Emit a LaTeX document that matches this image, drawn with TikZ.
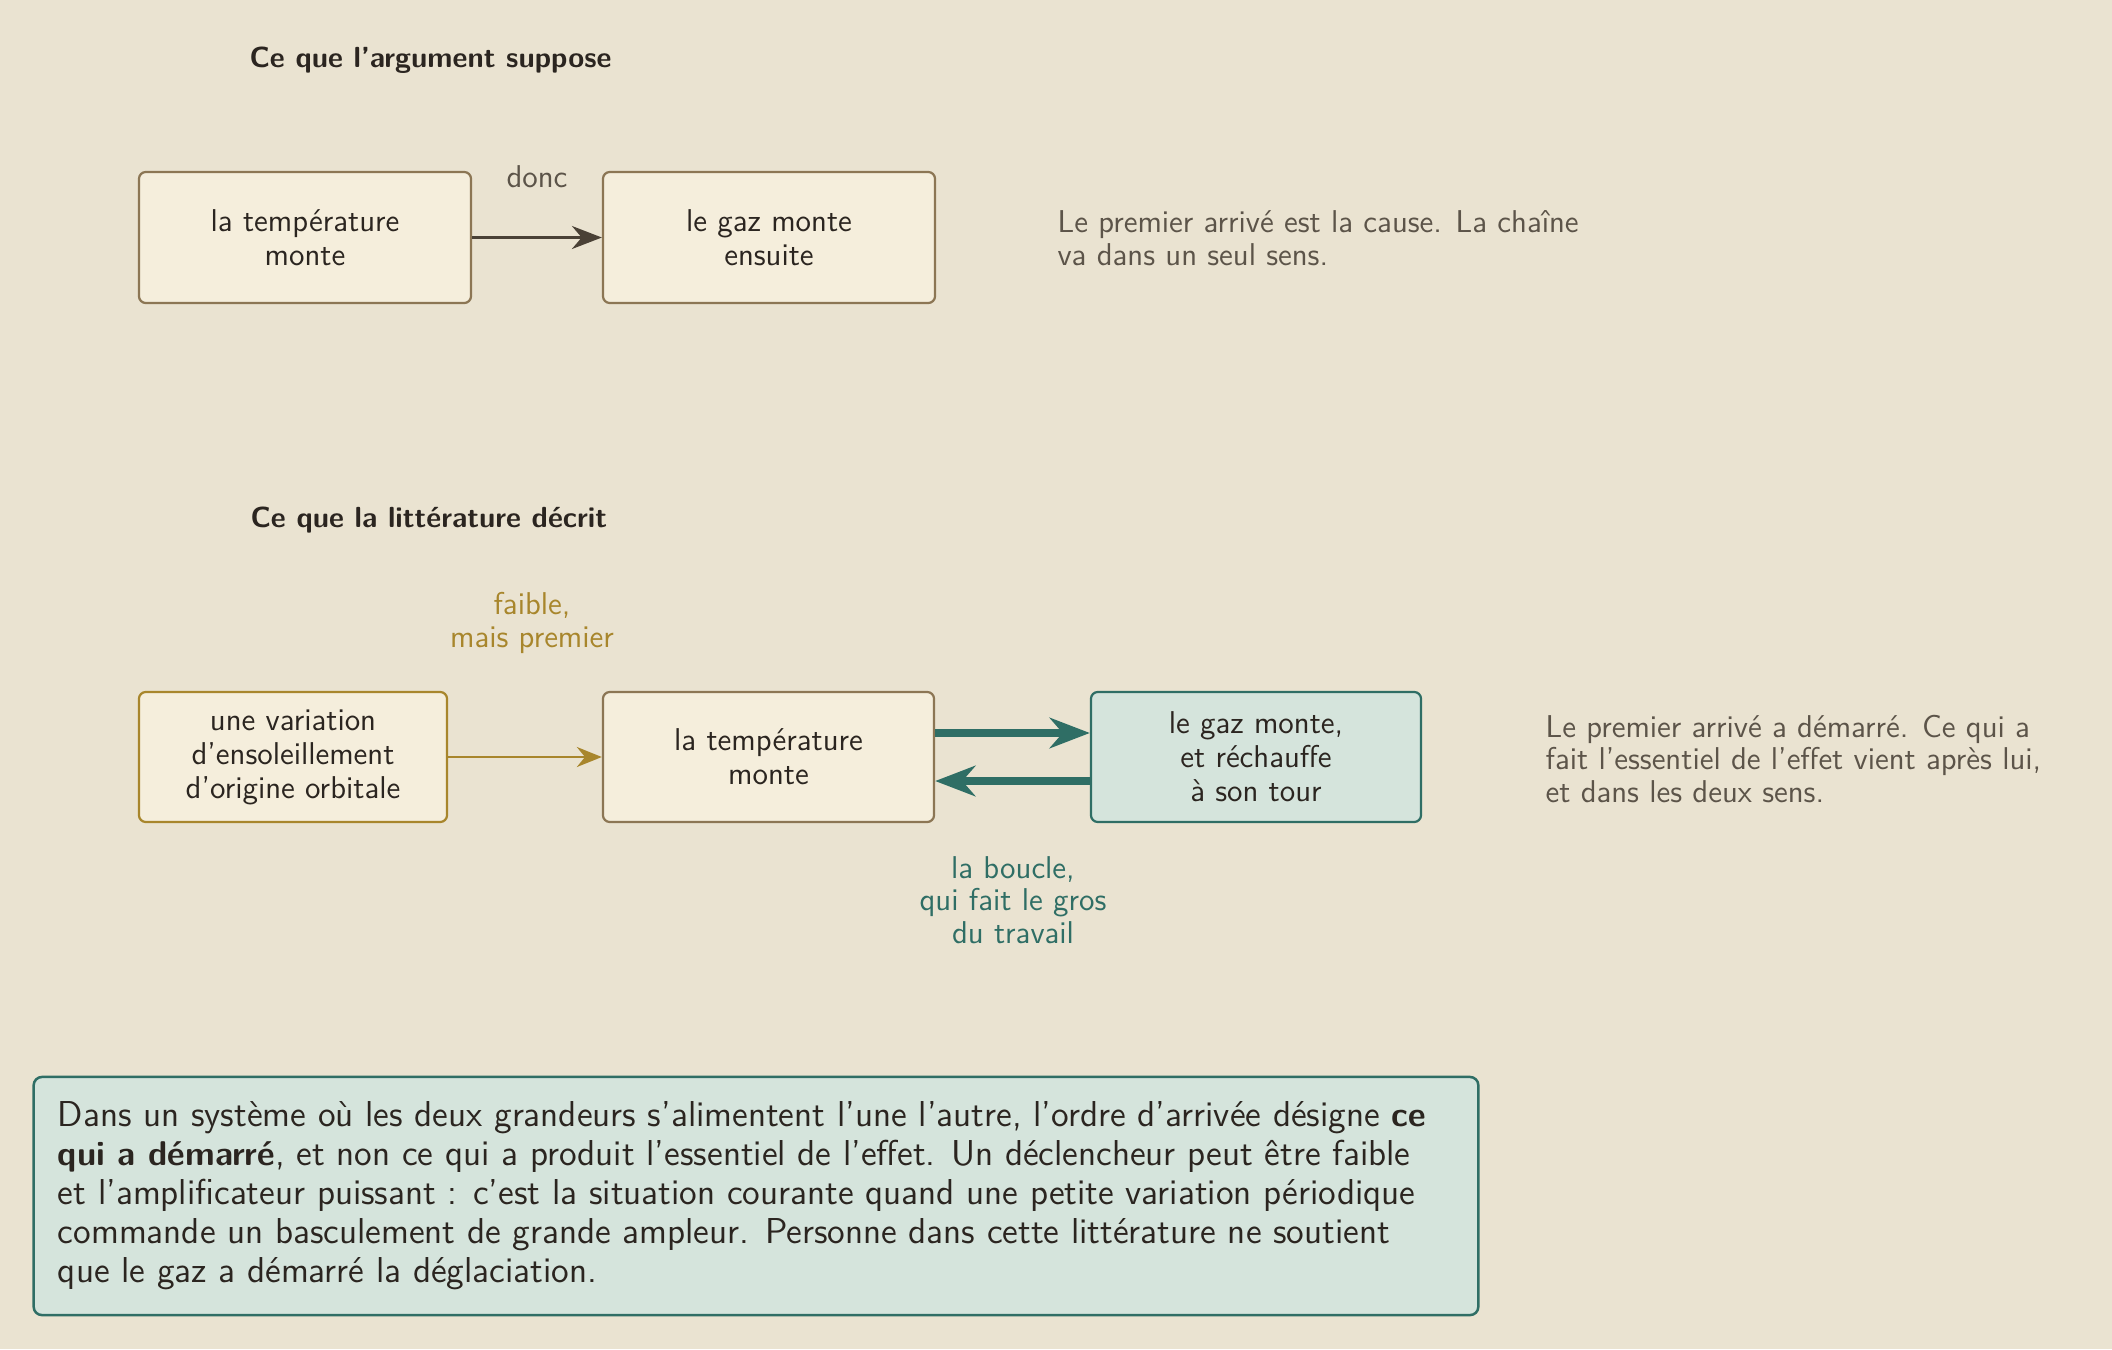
\documentclass[tikz,border=0pt]{standalone}
\usepackage{fontspec}
\usetikzlibrary{arrows.meta}
\definecolor{bg}{HTML}{EAE3D1}
\definecolor{cream}{HTML}{F5EEDC}
\definecolor{brownline}{HTML}{8C7654}
\definecolor{gold}{HTML}{A8862C}
\definecolor{teal}{HTML}{2F6E65}
\definecolor{tealfill}{HTML}{D5E4DC}
\definecolor{darkarrow}{HTML}{4A4136}
\definecolor{darktext}{HTML}{2B2520}
\definecolor{graytext}{HTML}{5C5449}
\newcommand{\bbold}[1]{{\fontsize{12.4}{14.1}\bfseries #1}}
\tikzset{
  boxtext/.style={font=\sffamily\fontsize{11.4}{12.3}\selectfont},
  stepbox/.style={boxtext, draw=brownline, fill=cream, line width=0.8pt, rounded corners=2.5pt,
    align=center, text=darktext, inner sep=0pt},
  goldbox/.style={stepbox, draw=gold},
  tealbox/.style={stepbox, draw=teal, fill=tealfill},
  titletext/.style={font=\sffamily\bfseries\fontsize{10.5}{12.5}\selectfont, text=darktext, inner sep=0pt},
  sidetext/.style={font=\sffamily\fontsize{11.4}{12.1}\selectfont, text=graytext, align=left, inner sep=0pt},
  lbl/.style={font=\sffamily\fontsize{11.4}{11.7}\selectfont, align=center, inner sep=0pt},
  darkarr/.style={draw=darkarrow, line width=1.1pt, -{Stealth[length=10.8pt,width=8.3pt]}},
  goldarr/.style={draw=gold, line width=1pt, -{Stealth[length=9pt,width=7.2pt]}},
  tealarr/.style={draw=teal, line width=2.9pt, -{Stealth[length=14.5pt,width=11pt]}}
}
\begin{document}
\begin{tikzpicture}[x=0.0127cm,y=-0.0127cm]
\fill[bg] (0,0) rectangle (2112,1349);
\useasboundingbox (0,0) rectangle (2112,1349);

% Section 1
\node[titletext, anchor=base west] (t1) at (249,67) {Ce que l’argument suppose};
\node[stepbox, minimum width=4.216cm, minimum height=1.664cm] (b1) at (305,237.5) {la température\\monte};
\node[stepbox, minimum width=4.216cm, minimum height=1.664cm] (b2) at (769,237.5) {le gaz monte\\ensuite};
\draw[darkarr] (b1.east) -- (b2.west);
\node[lbl, text=graytext, anchor=base] (donc) at (537,187) {donc};
\node[sidetext, anchor=west] (s1) at (1057,238) {Le premier arrivé est la cause.  La chaîne\\va dans un seul sens.};

% Section 2
\node[titletext, anchor=base west] (t2) at (250,527) {Ce que la littérature décrit};
\node[goldbox, minimum width=3.912cm, minimum height=1.651cm] (ba) at (293,757) {une variation\\d’ensoleillement\\d’origine orbitale};
\node[stepbox, minimum width=4.204cm, minimum height=1.651cm] (bb) at (768.5,757) {la température\\monte};
\node[tealbox, minimum width=4.191cm, minimum height=1.651cm] (bc) at (1256,757) {le gaz monte,\\et réchauffe\\à son tour};
\draw[goldarr] (ba.east) -- (bb.west);
\draw[tealarr] ([yshift=0.3048cm]bb.east) -- ([yshift=0.3048cm]bc.west);
\draw[tealarr] ([yshift=-0.3048cm]bc.west) -- ([yshift=-0.3048cm]bb.east);
\node[lbl, text=gold] (faible) at (532,623) {faible,\\mais premier};
\node[lbl, text=teal] (boucle) at (1013,900) {la boucle,\\qui fait le gros\\du travail};
\node[sidetext, font=\sffamily\fontsize{11.4}{11.6}\selectfont, anchor=west] (s2) at (1545,759) {Le premier arrivé a démarré.  Ce qui a\\fait l’essentiel de l’effet vient après lui,\\et dans les deux sens.};

% Bottom box
\node[draw=teal, fill=tealfill, line width=0.9pt, rounded corners=3pt, minimum width=18.34cm, minimum height=3.023cm, inner sep=0pt] (bottom) at (756,1196) {};
\node[font=\sffamily\fontsize{13}{14.1}\selectfont, text=darktext, align=left, anchor=west, inner sep=0pt] (btext) at ([xshift=0.3175cm]bottom.west) {Dans un système où les deux grandeurs s’alimentent l’une l’autre, l’ordre d’arrivée désigne \bbold{ce}\\\bbold{qui a démarré}, et non ce qui a produit l’essentiel de l’effet.  Un déclencheur peut être faible\\et l’amplificateur puissant : c’est la situation courante quand une petite variation périodique\\commande un basculement de grande ampleur.  Personne dans cette littérature ne soutient\\que le gaz a démarré la déglaciation.};
\end{tikzpicture}
\end{document}
